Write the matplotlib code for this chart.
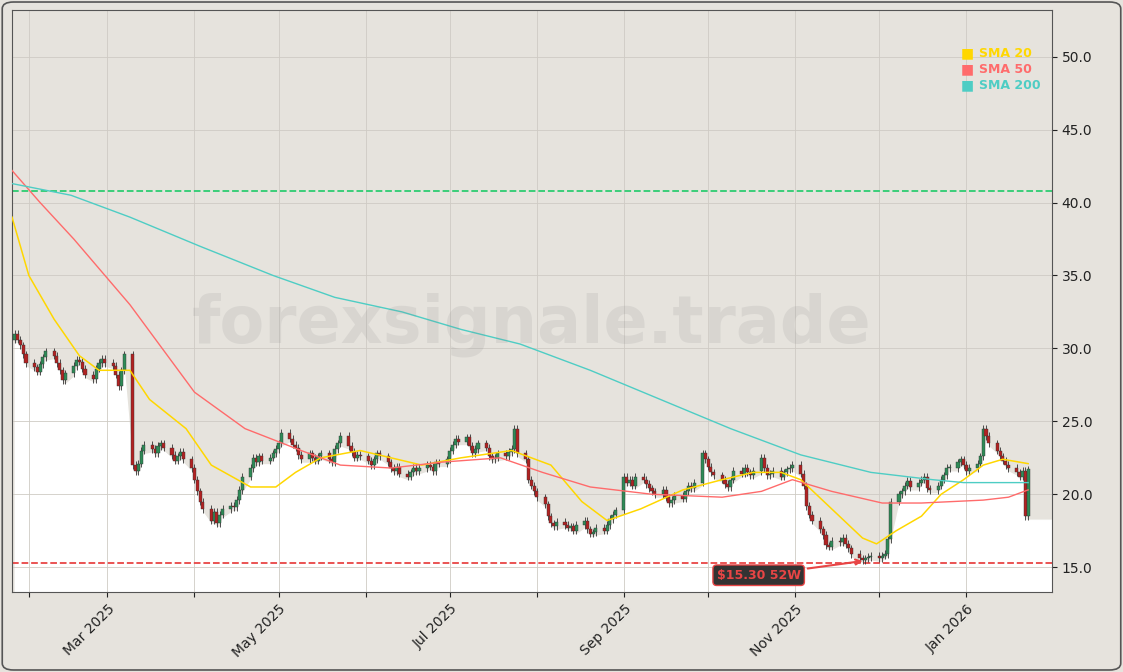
import numpy as np
import pandas as pd
import matplotlib
matplotlib.use('Agg')
import matplotlib.pyplot as plt
import matplotlib.dates as mdates
from matplotlib.patches import FancyBboxPatch

# Daily closes, Jan 27 2025 .. Jan 23 2026 (business days)
closes = [
    31.0, 30.6, 30.2, 29.6, 29.0,
    28.7, 28.4, 28.9, 29.4, 29.8, 29.5, 29.0, 28.5, 27.8, 28.3, 28.8, 29.2, 29.1, 28.6, 28.2, 27.9, 28.6, 29.0, 29.3, 29.0,
    28.8, 28.2, 27.4, 28.5, 29.6, 22.0, 21.6, 22.1, 23.0, 23.4, 23.1, 22.8, 23.3, 23.5, 23.2, 22.7, 22.3, 22.6, 22.9, 22.4, 21.8,
    21.0, 20.2, 19.5, 19.0, 18.2, 18.8, 18.0, 18.6, 19.0, 19.2, 19.1, 19.6, 20.3, 21.2, 21.8, 22.5, 22.2, 22.6, 22.3, 22.5, 22.8, 23.1,
    23.5, 24.2, 23.8, 23.4, 23.2, 22.7, 22.4, 22.8, 22.5, 22.3, 22.6, 22.8, 22.4, 22.2, 23.1, 23.5, 24.0, 23.3, 22.9, 22.5, 22.7, 22.6,
    22.3, 22.0, 22.4, 22.8, 22.6, 22.2, 21.8, 21.6, 21.9, 21.4, 21.2, 21.5, 21.8, 21.6, 21.8, 22.0, 21.9, 21.6, 22.2, 22.1, 22.4,
    23.0, 23.4, 23.8, 23.6, 23.9, 23.3, 22.8, 23.1, 23.5, 23.2, 22.6, 22.4, 22.5, 22.8, 22.6, 22.9, 23.1, 24.5, 22.8, 22.4, 21.0, 20.6, 20.2,
    19.8, 19.3, 18.5, 18.0, 17.8, 18.1, 17.9, 17.7, 17.8, 17.5, 17.9, 18.2, 17.6, 17.3, 17.4, 17.7, 17.5, 17.9, 18.3, 18.6, 18.9,
    21.2, 20.8, 21.0, 20.6, 21.2, 21.0, 20.7, 20.4, 20.2, 20.0, 20.3, 19.8, 19.4, 19.6, 19.9, 19.7, 20.2, 20.6, 20.4, 20.8, 22.8, 22.4,
    21.9, 21.5, 21.3, 21.0, 20.7, 20.5, 21.0, 21.6, 21.4, 21.8, 21.5, 21.3, 21.6, 22.5, 21.8, 21.3, 21.4, 21.6, 21.2, 21.5, 21.7, 21.8, 22.0,
    21.4, 20.6, 19.2, 18.6, 18.2, 17.6, 17.2, 16.5, 16.4, 16.8, 16.7, 17.0, 16.6, 16.3, 15.9, 15.6, 15.5, 15.6, 15.7, 15.8,
    15.6, 15.8, 15.9, 16.9, 19.5, 20.0, 20.2, 20.6, 20.9, 20.5, 20.8, 21.0, 21.2, 20.4, 20.3, 20.6, 21.0, 21.3, 21.8, 21.8, 22.2, 22.4, 22.0,
    21.6, 21.8, 22.1, 22.6, 24.5, 24.0, 23.5, 23.0, 22.6, 22.3, 22.0, 21.8, 21.5, 21.2, 21.6, 18.5, 21.7,
]
first_open = 30.6

sma20_dates = ['2025-01-26', '2025-02-01', '2025-02-10', '2025-02-19', '2025-02-26', '2025-03-09', '2025-03-16',
               '2025-03-29', '2025-04-07', '2025-04-21', '2025-04-30', '2025-05-07', '2025-05-16', '2025-05-30',
               '2025-06-10', '2025-06-21', '2025-07-05', '2025-07-23', '2025-08-06', '2025-08-17', '2025-08-26',
               '2025-09-07', '2025-09-22', '2025-10-06', '2025-10-17', '2025-10-27', '2025-11-03', '2025-11-14',
               '2025-11-25', '2025-11-30', '2025-12-07', '2025-12-16', '2025-12-23', '2025-12-31', '2026-01-07',
               '2026-01-14', '2026-01-23']
sma20_vals = [39.0, 35.0, 32.0, 29.5, 28.5, 28.5, 26.5, 24.5, 22.0, 20.5, 20.5, 21.5, 22.5, 23.0, 22.5, 22.0, 22.5,
              23.0, 22.0, 19.5, 18.2, 19.0, 20.3, 21.0, 21.5, 21.5, 21.0, 19.0, 17.0, 16.6, 17.5, 18.5, 20.0, 21.0,
              22.0, 22.4, 22.1]

sma50_dates = ['2025-01-26', '2025-02-05', '2025-02-17', '2025-03-09', '2025-04-01', '2025-04-19', '2025-05-09',
               '2025-05-23', '2025-06-10', '2025-06-28', '2025-07-19', '2025-08-03', '2025-08-20', '2025-09-11',
               '2025-10-06', '2025-10-20', '2025-10-31', '2025-11-14', '2025-12-02', '2025-12-16', '2026-01-07',
               '2026-01-16', '2026-01-23']
sma50_vals = [42.2, 40.0, 37.5, 33.0, 27.0, 24.5, 23.0, 22.0, 21.8, 22.2, 22.5, 21.5, 20.5, 20.0, 19.8, 20.2, 21.0,
              20.2, 19.4, 19.4, 19.6, 19.8, 20.3]

sma200_dates = ['2025-01-26', '2025-02-16', '2025-03-09', '2025-04-03', '2025-04-29', '2025-05-21', '2025-06-14',
                '2025-07-05', '2025-07-26', '2025-08-20', '2025-09-14', '2025-10-09', '2025-11-03', '2025-11-28',
                '2025-12-20', '2025-12-31', '2026-01-23']
sma200_vals = [41.3, 40.5, 39.0, 37.0, 35.0, 33.5, 32.5, 31.3, 30.3, 28.5, 26.5, 24.5, 22.7, 21.5, 21.0, 20.8, 20.8]

high_52w = 40.8
low_52w = 15.3

BG = '#e6e3dd'
dates = pd.bdate_range('2025-01-27', periods=len(closes))
c = np.array(closes)
o = np.concatenate([[first_open], c[:-1]])
h = np.maximum(o, c) + 0.25
l = np.minimum(o, c) - 0.25
x = mdates.date2num(dates)

fig = plt.figure(figsize=(11.23, 6.72), dpi=100)
fig.patch.set_facecolor(BG)
fig.patches.append(FancyBboxPatch((0.002, 0.003), 0.996, 0.994, boxstyle='round,pad=0,rounding_size=0.01',
                                  transform=fig.transFigure, facecolor='none', edgecolor='#555555', lw=1.2))
ax = fig.add_axes([12 / 1123, 80 / 672, 1040 / 1123, 582 / 672])
ax.set_facecolor(BG)

xmin, xmax = mdates.date2num(pd.Timestamp('2025-01-26')), mdates.date2num(pd.Timestamp('2026-01-31 12:00'))
ax.set_xlim(xmin, xmax)
ax.set_ylim(13.3, 53.2)

# white area below the lows
fx = np.concatenate([x, [xmax]])
fl = np.concatenate([l, [l[-1]]])
ax.fill_between(fx, fl, 13.3, color='white', zorder=1)

ax.grid(True, color='#cfcbc4', lw=0.6, zorder=0)

# candles
for xi, oi, hi, li, ci in zip(x, o, h, l, c):
    col = '#2e8b57' if ci >= oi else '#b22222'
    ax.vlines(xi, li, hi, color='#333333', lw=0.6, zorder=3)
    ax.bar(xi, max(abs(ci - oi), 0.05), bottom=min(oi, ci), width=1.1, color=col,
           edgecolor='#333333', lw=0.3, zorder=4)

ax.plot(pd.to_datetime(sma20_dates), sma20_vals, color='#FFD700', lw=1.1, zorder=5)
ax.plot(pd.to_datetime(sma50_dates), sma50_vals, color='#FF6B6B', lw=1.0, zorder=5)
ax.plot(pd.to_datetime(sma200_dates), sma200_vals, color='#4ECDC4', lw=1.0, zorder=5)

ax.axhline(high_52w, color='#2ecc71', ls='--', lw=1.3, zorder=2)
ax.axhline(low_52w, color='#e84545', ls='--', lw=1.3, zorder=2)

ax.annotate(f'${low_52w:.2f} 52W', xy=(pd.Timestamp('2025-11-26'), 15.45),
            xytext=(pd.Timestamp('2025-10-19'), 14.45), fontsize=9, fontweight='bold',
            color='#e84545', ha='center', va='center', zorder=7,
            bbox=dict(boxstyle='round,pad=0.3', facecolor='#333333', edgecolor='#e84545', lw=1),
            arrowprops=dict(arrowstyle='->', color='#e84545', lw=1.5))

ax.text(0.5, 0.46, 'forexsignale.trade', transform=ax.transAxes, fontsize=47, fontweight='bold',
        color='#888888', alpha=0.15, ha='center', va='center', zorder=6)

for i, (lab, col) in enumerate([('SMA 20', '#FFD700'), ('SMA 50', '#FF6B6B'), ('SMA 200', '#4ECDC4')]):
    yy = 0.925 - i * 0.027
    ax.text(0.912, yy, '■', transform=ax.transAxes, color=col, fontsize=10, va='center', ha='left', zorder=8)
    ax.text(0.93, yy, lab, transform=ax.transAxes, color=col, fontsize=9, fontweight='bold',
            va='center', ha='left', zorder=8)

ax.yaxis.tick_right()
ax.set_yticks([15, 20, 25, 30, 35, 40, 45, 50])
ax.yaxis.set_major_formatter(matplotlib.ticker.FormatStrFormatter('%.1f'))
ax.xaxis.set_major_locator(mdates.MonthLocator())
ax.xaxis.set_major_formatter(mdates.DateFormatter('%b %Y'))
fig.canvas.draw()
for i, t in enumerate(ax.get_xticklabels()):
    t.set_rotation(45)
    t.set_ha('right')
    t.set_rotation_mode('anchor')
    if i % 2 == 0:
        t.set_visible(False)
ax.tick_params(labelsize=10, colors='#222222')
for s in ax.spines.values():
    s.set_color('#555555')

fig.savefig('out.png', dpi=100, facecolor=BG)
